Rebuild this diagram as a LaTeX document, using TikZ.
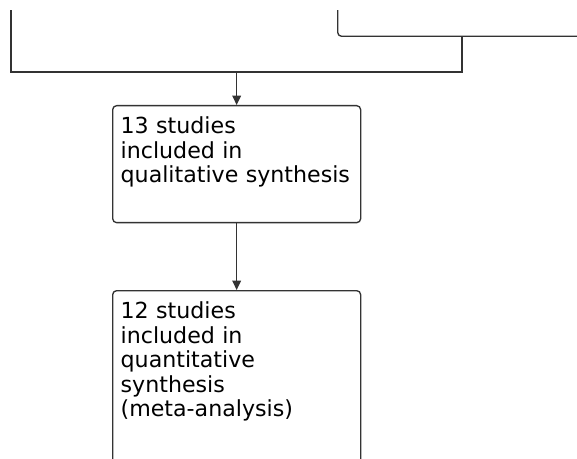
\documentclass[tikz,border=0pt]{standalone}
\usepackage{fontspec}
\setmainfont{DejaVu Sans}
\usetikzlibrary{arrows.meta}
\begin{document}
\begin{tikzpicture}[x=0.75pt,y=-0.75pt] % 1 unit = 1 px
\tikzstyle{mybox} = [draw=black!80, line width=1pt, rounded corners=3pt, anchor=north west, align=left, text width=174pt, inner xsep=6pt, inner ysep=3pt, text height=18pt, font=\fontsize{16.6pt}{18.4pt}\selectfont] % box style
\tikzstyle{myline} = [draw=black!80, line width=1pt] % connector style
\tikzstyle{myarrow} = [myline, -{Triangle[length=7pt,width=6.5pt]}] % arrow style
\useasboundingbox (0,0) rectangle (577,459);
\clip (0,11) rectangle (577,459); % white strip on top
\node[mybox, anchor=south west, minimum width=272pt, minimum height=73pt] (elig) at (337,37) {}; % box cut off at top right
\node[mybox, text depth=63.75pt] (qual) at (112,105) {13 studies\\included in\\qualitative synthesis};
\node[mybox, text depth=126pt] (quant) at (112,290) {12 studies\\included in\\quantitative\\synthesis\\(meta-analysis)};
\coordinate (top) at (11,0); % line from above
\coordinate (join) at (462,72);
\draw[myline] (top) |- (join) -- (join |- elig.south);
\draw[myarrow] (qual.north |- join) -- (qual.north);
\draw[myarrow] (qual.south) -- (quant.north);
\end{tikzpicture}
\end{document}
